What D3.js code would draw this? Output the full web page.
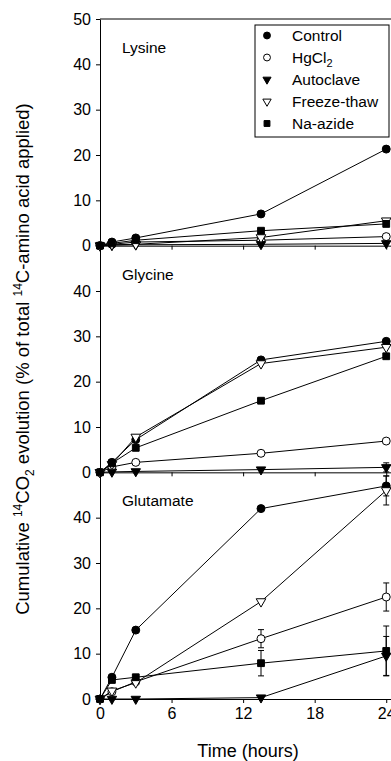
<!DOCTYPE html>
<html>
<head>
<meta charset="utf-8">
<script src="https://cdn.jsdelivr.net/npm/d3@7"></script>
<style>
  body { margin: 0; background: #fff; }
  svg { display: block; font-family: "Liberation Sans", Arial, sans-serif; }
</style>
</head>
<body>
<svg id="chart" width="391" height="761"></svg>
<script>
// sampling times (hours)
const times = [0, 1, 3, 13.5, 24];
const treatments = ["Control", "HgCl2", "Autoclave", "Freeze-thaw", "Na-azide"];
const aminoAcids = ["Lysine", "Glycine", "Glutamate"];
const xTicks = [0, 6, 12, 18, 24];
const yTicksTop = [0, 10, 20, 30, 40, 50];
const yTicksLower = [0, 10, 20, 30, 40];

// values per treatment, same order as `treatments`
const lysine = [
  [0, 0.8, 1.7, 7.0, 21.3],
  [0, 0.3, 0.8, 1.2, 2.0],
  [0, 0.1, 0.2, 0.3, 0.5],
  [0, 0.2, 0.3, 1.8, 5.5],
  [0, 0.5, 1.2, 3.3, 4.8]
];
const glycine = [
  [0, 2.2, 7.2, 24.8, 28.9],
  [0, 1.2, 2.2, 4.2, 6.9],
  [0, 0.1, 0.2, 0.6, 1.1],
  [0, 1.8, 7.8, 24.0, 27.6],
  [0, 2.0, 5.4, 15.8, 25.6]
];
const glutamate = [
  [0, 4.8, 15.2, 42.0, 47.0],
  [0, 1.6, 3.8, 13.3, 22.5],
  [0, 0, 0, 0.3, 9.5],
  [0, 1.8, 3.6, 21.5, 46.0],
  [0, 4.2, 4.8, 7.9, 10.6]
];
// error bars (+/-), mostly only visible for glutamate
const lysineErr = [
  [0, 0, 0, 0, 0], [0, 0, 0, 0, 0], [0, 0, 0, 0, 0], [0, 0, 0, 0, 0], [0, 0, 0, 0, 0]
];
const glycineErr = [
  [0, 0, 0, 0, 0], [0, 0, 0, 0, 0], [0, 0, 0, 0, 1.0], [0, 0, 0, 0, 0], [0, 0, 0, 0, 0]
];
const glutamateErr = [
  [0, 0, 0, 0, 2.2],
  [0, 0, 0, 2.0, 3.1],
  [0, 0, 0, 0, 4.3],
  [0, 0, 0, 0, 3.2],
  [0, 0, 0, 2.8, 5.5]
];

const panelValues = [lysine, glycine, glutamate];
const panelErrors = [lysineErr, glycineErr, glutamateErr];

const svg = d3.select("#chart");
const plotLeft = 100, plotRight = 391, plotTop = 19, plotBottom = 699;
const panelH = (plotBottom - plotTop) / 3;
const fontFam = "Liberation Sans, Arial, sans-serif";

const x = d3.scaleLinear().domain([0, 24.4]).range([plotLeft, plotRight]);

// marker styles by treatment
const symbolType = [d3.symbolCircle, d3.symbolCircle, d3.symbolTriangle, d3.symbolTriangle, d3.symbolSquare];
const symbolFill = ["#000", "#fff", "#000", "#fff", "#000"];
const symbolSize = [50, 50, 38, 40, 46];
const symbolRot = [0, 0, 180, 180, 0];

function drawMarker(g, i, cx, cy, scale) {
  const s = scale || 1;
  g.append("path")
    .attr("d", d3.symbol().type(symbolType[i]).size(symbolSize[i] * s)())
    .attr("transform", `translate(${cx},${cy}) rotate(${symbolRot[i]})`)
    .attr("fill", symbolFill[i])
    .attr("stroke", "#000")
    .attr("stroke-width", 1);
}

aminoAcids.forEach((name, p) => {
  const pTop = plotTop + p * panelH;
  const y = d3.scaleLinear().domain([0, 50]).range([pTop + panelH, pTop]);
  const g = svg.append("g");

  const yAxis = d3.axisLeft(y)
    .tickValues(p === 0 ? yTicksTop : yTicksLower)
    .tickSize(4).tickSizeOuter(0).tickPadding(5);
  g.append("g").attr("transform", `translate(${plotLeft},0)`).call(yAxis)
    .call(a => a.selectAll("text").attr("font-size", 16).attr("fill", "#000").attr("font-family", fontFam))
    .call(a => a.selectAll("line,path").attr("stroke", "#000"));

  const xAxis = d3.axisBottom(x).tickValues(xTicks)
    .tickSize(4).tickSizeOuter(0).tickPadding(5)
    .tickFormat(p === 2 ? d3.format("d") : () => "");
  g.append("g").attr("transform", `translate(0,${y(0)})`).call(xAxis)
    .call(a => a.selectAll("text").attr("font-size", 16).attr("fill", "#000").attr("font-family", fontFam))
    .call(a => a.selectAll("line,path").attr("stroke", "#000"));

  if (p === 0) {
    g.append("line").attr("x1", plotLeft).attr("x2", plotRight)
      .attr("y1", y(50)).attr("y2", y(50)).attr("stroke", "#000");
  }

  g.append("text").attr("x", plotLeft + 22).attr("y", pTop + 34)
    .attr("font-size", 15.5).text(name);

  const vals = panelValues[p];
  const errs = panelErrors[p];
  const line = d3.line().x((d, k) => x(times[k])).y(d => y(d));

  // error bars first
  vals.forEach((series, i) => {
    series.forEach((v, k) => {
      const e = errs[i][k];
      if (!e) return;
      const cx = x(times[k]);
      g.append("line").attr("x1", cx).attr("x2", cx)
        .attr("y1", y(v - e)).attr("y2", y(v + e)).attr("stroke", "#000");
      [v - e, v + e].forEach(t => {
        g.append("line").attr("x1", cx - 3).attr("x2", cx + 3)
          .attr("y1", y(t)).attr("y2", y(t)).attr("stroke", "#000");
      });
    });
  });

  vals.forEach(series => {
    g.append("path").datum(series).attr("d", line)
      .attr("fill", "none").attr("stroke", "#000").attr("stroke-width", 1);
  });

  vals.forEach((series, i) => {
    series.forEach((v, k) => drawMarker(g, i, x(times[k]), y(v)));
  });
});

// legend
const leg = svg.append("g");
leg.append("rect").attr("x", 255).attr("y", 25).attr("width", 134).attr("height", 112)
  .attr("fill", "#fff").attr("stroke", "#000");
treatments.forEach((t, i) => {
  const ly = 35.5 + i * 22;
  drawMarker(leg, i, 267, ly, 0.75);
  const txt = leg.append("text").attr("x", 292).attr("y", ly + 5.5).attr("font-size", 15.5);
  if (t === "HgCl2") {
    txt.append("tspan").text("HgCl");
    txt.append("tspan").attr("font-size", 11).attr("dy", 4).text("2");
  } else {
    txt.text(t);
  }
});

// axis titles
svg.append("text").attr("x", 248).attr("y", 757).attr("text-anchor", "middle")
  .attr("font-size", 18).text("Time (hours)");

const yt = svg.append("text")
  .attr("transform", `translate(29,${(plotTop + plotBottom) / 2}) rotate(-90)`)
  .attr("text-anchor", "middle").attr("font-size", 18.5);
yt.append("tspan").text("Cumulative ");
yt.append("tspan").attr("font-size", 12).attr("dy", -7).text("14");
yt.append("tspan").attr("dy", 7).text("CO");
yt.append("tspan").attr("font-size", 12).attr("dy", 5).text("2");
yt.append("tspan").attr("dy", -5).text(" evolution (% of total ");
yt.append("tspan").attr("font-size", 12).attr("dy", -7).text("14");
yt.append("tspan").attr("dy", 7).text("C-amino acid applied)");
</script>
</body>
</html>
